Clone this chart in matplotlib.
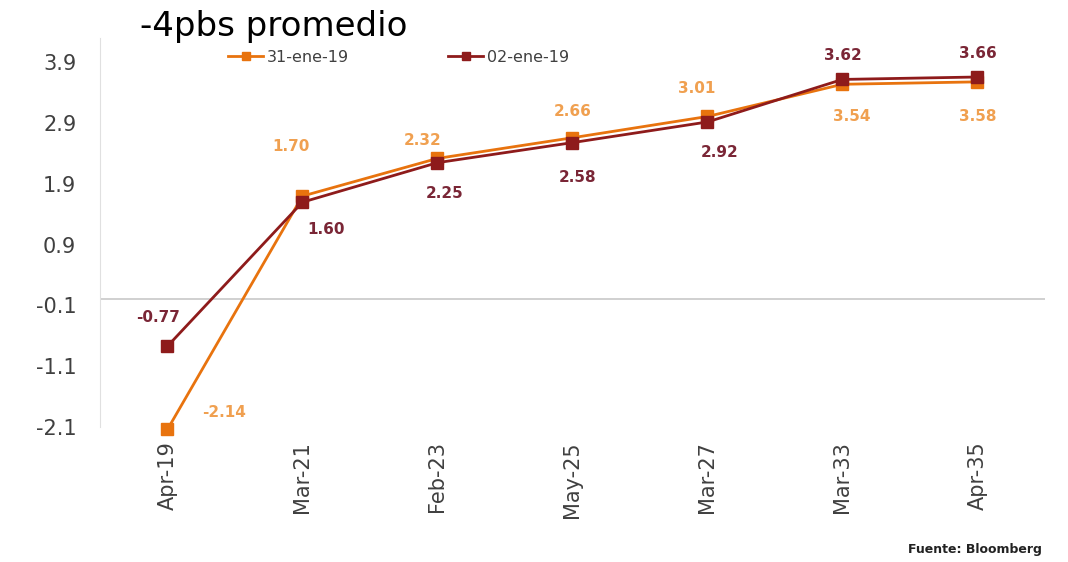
import matplotlib
matplotlib.use('Agg')
import matplotlib.pyplot as plt
from matplotlib.lines import Line2D

# --- data ---
categories = ['Apr-19', 'Mar-21', 'Feb-23', 'May-25', 'Mar-27', 'Mar-33', 'Apr-35']
serie_31ene = [-2.14, 1.70, 2.32, 2.66, 3.01, 3.54, 3.58]
serie_02ene = [-0.77, 1.60, 2.25, 2.58, 2.92, 3.62, 3.66]
yticks = [3.9, 2.9, 1.9, 0.9, -0.1, -1.1, -2.1]

# label offsets in points (dx, dy) for each point
off_31ene = [(41, 12), (-8, 36), (-11, 13), (0, 19), (-8, 20), (7, -23), (0, -25)]
off_02ene = [(-7, 21), (17, -20), (5, -22), (4, -25), (9, -22), (0, 17), (0, 17)]

ORANGE = '#E8730E'
ORANGE_TXT = '#F0A050'
DARKRED = '#8E1B1B'
DARKRED_TXT = '#7A2636'


def main():
    fig = plt.figure(figsize=(10.68, 5.62), dpi=100)
    ax = fig.add_axes([0.0936, 0.2402, 0.8848, 0.692])

    x = list(range(len(categories)))
    ax.plot(x, serie_31ene, color=ORANGE, lw=2, marker='s', ms=9,
            clip_on=False, zorder=3)
    ax.plot(x, serie_02ene, color=DARKRED, lw=2, marker='s', ms=9,
            clip_on=False, zorder=4)

    for i in x:
        ax.annotate(f'{serie_31ene[i]:.2f}', (i, serie_31ene[i]), xytext=off_31ene[i],
                    textcoords='offset points', ha='center', va='center',
                    fontsize=11, fontweight='bold', color=ORANGE_TXT,
                    annotation_clip=False)
        ax.annotate(f'{serie_02ene[i]:.2f}', (i, serie_02ene[i]), xytext=off_02ene[i],
                    textcoords='offset points', ha='center', va='center',
                    fontsize=11, fontweight='bold', color=DARKRED_TXT,
                    annotation_clip=False)

    ax.axhline(0, color='#C8C8C8', lw=1.2, zorder=1)
    ax.set_xlim(-0.5, 6.5)
    ax.set_ylim(-2.1, 4.3)
    ax.set_yticks(yticks)
    ax.set_yticklabels([f'{v:.1f}' for v in yticks])
    ax.set_xticks(x)
    ax.set_xticklabels(categories, rotation=90)
    ax.tick_params(axis='both', length=0, labelsize=15, labelcolor='#404040')
    ax.tick_params(axis='y', pad=17)
    ax.tick_params(axis='x', pad=10)
    for s in ['top', 'right', 'bottom']:
        ax.spines[s].set_visible(False)
    ax.spines['left'].set_color('#E0E0E0')

    fig.text(0.131, 0.952, '-4pbs promedio', fontsize=24.5, family='DejaVu Sans',
             ha='left', va='center', color='black')

    handles = [Line2D([], [], color=ORANGE, lw=2, marker='s', ms=6),
               Line2D([], [], color=DARKRED, lw=2, marker='s', ms=6)]
    fig.legend(handles, ['31-ene-19', '02-ene-19'], loc='center left',
               bbox_to_anchor=(0.2, 0.898), ncol=2, frameon=False,
               fontsize=11.5, handlelength=2.2, handletextpad=0.25,
               columnspacing=6.2, labelcolor='#404040')

    fig.text(0.976, 0.023, 'Fuente: Bloomberg', fontsize=9, fontweight='bold',
             ha='right', va='center', color='#222222')

    fig.savefig('out.png', dpi=100)


if __name__ == '__main__':
    main()
